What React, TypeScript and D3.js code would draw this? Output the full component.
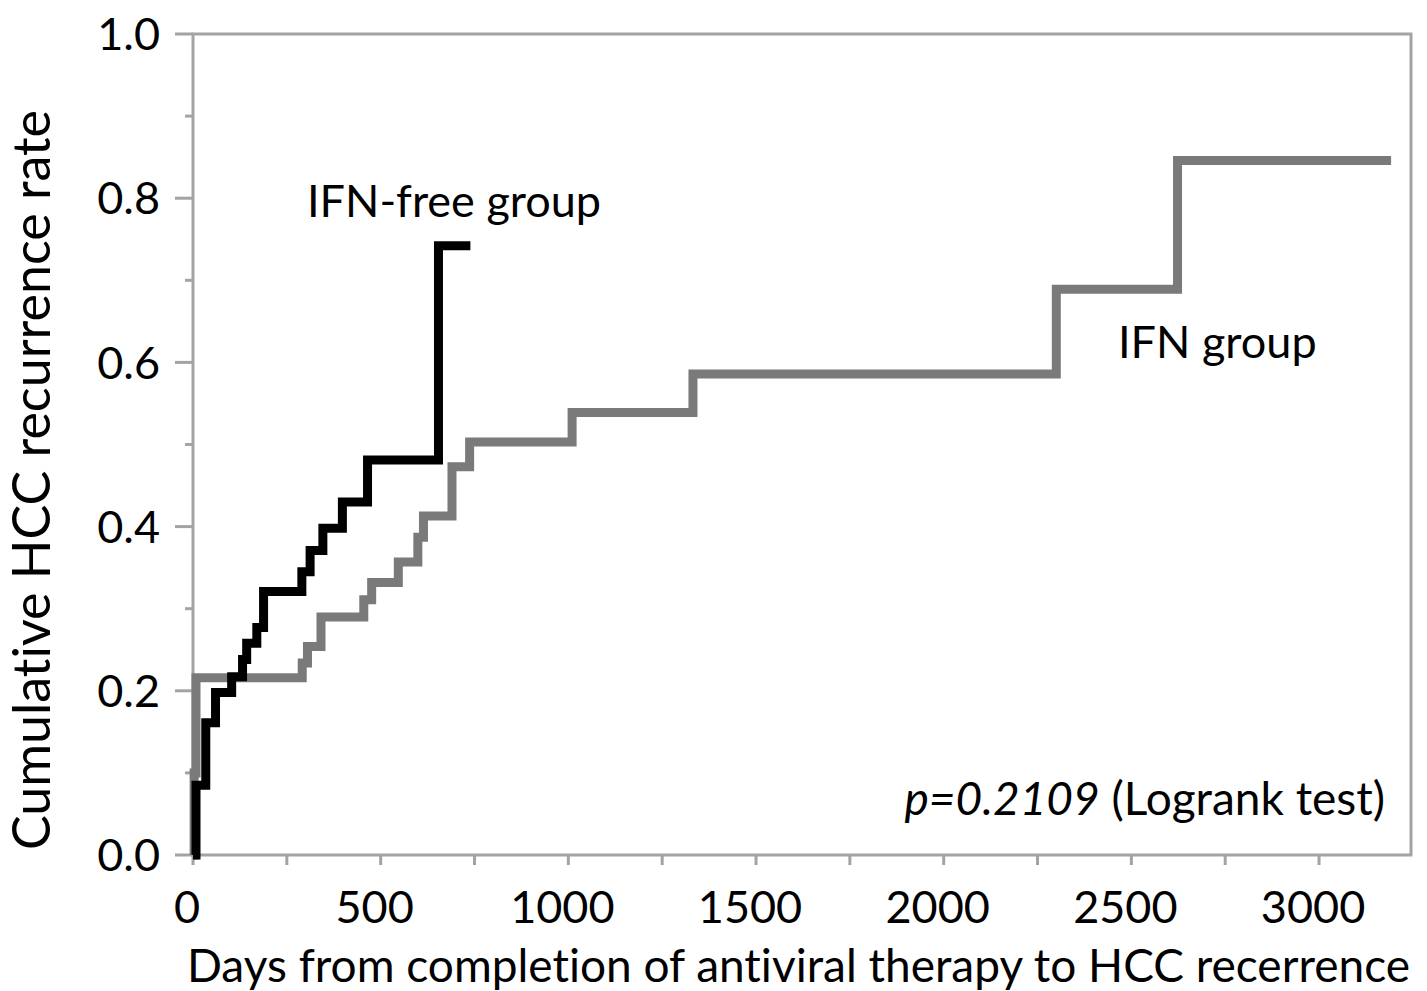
import * as d3 from "d3";

// chart size matches the reference picture
const width = 1427,
	height = 991;
const margin = { top: 34, right: 16, bottom: 136, left: 193 };

// IFN-free group (black step curve)
const freeDays = [0, 8, 34, 60, 103, 132, 143, 170, 188, 290, 312, 346, 398, 465, 654, 739];
const freeRates = [0, 0.085, 0.161, 0.198, 0.217, 0.238, 0.258, 0.277, 0.321, 0.345, 0.371, 0.398, 0.43, 0.481, 0.742, 0.742];

// IFN group (gray step curve)
const ifnDays = [0, 3, 8, 291, 305, 341, 455, 476, 547, 599, 614, 690, 737, 1010, 1332, 2300, 2623, 3192];
const ifnRates = [0, 0.1, 0.216, 0.234, 0.254, 0.29, 0.311, 0.332, 0.357, 0.387, 0.413, 0.473, 0.503, 0.539, 0.586, 0.689, 0.846, 0.846];

const xTicks = [0, 500, 1000, 1500, 2000, 2500, 3000];
const xMinor = [250, 750, 1250, 1750, 2250, 2750];
const yTicks = [0, 0.2, 0.4, 0.6, 0.8, 1.0];
const yMinor = [0.1, 0.3, 0.5, 0.7, 0.9];

const font = "Lato, 'Open Sans', sans-serif";
const axisColor = "#a3a3a3";

export default function App() {
	const x = d3.scaleLinear().domain([0, 3245]).range([margin.left, width - margin.right]);
	const y = d3.scaleLinear().domain([0, 1]).range([height - margin.bottom, margin.top]);

	// step-after lines, same as a Kaplan-Meier plot
	const step = d3
		.line<[number, number]>()
		.x((d) => x(d[0]))
		.y((d) => y(d[1]))
		.curve(d3.curveStepAfter);

	const freePath = step(freeDays.map((d, i) => [d, freeRates[i]]));
	const ifnPath = step(ifnDays.map((d, i) => [d, ifnRates[i]]));

	const x0 = x(0),
		x1 = x(3245),
		yb = y(0),
		yt = y(1);

	return (
		<svg
			width={width}
			height={height}
			style={{ position: "absolute", left: 0, top: 0, background: "#fff", fontVariantLigatures: "none" }}
			fontFamily={font}
		>
			{/* plot frame */}
			<rect x={x0} y={yt} width={x1 - x0} height={yb - yt} fill="none" stroke={axisColor} strokeWidth={3} />

			{/* y ticks */}
			{yTicks.map((t) => (
				<g key={"y" + t}>
					<line x1={x0 - 18} x2={x0} y1={y(t)} y2={y(t)} stroke={axisColor} strokeWidth={3} />
					<text x={160} y={y(t)} dy="0.36em" textAnchor="end" fontSize={45} fill="#000">
						{t.toFixed(1)}
					</text>
				</g>
			))}
			{yMinor.map((t) => (
				<line key={"ym" + t} x1={x0 - 8} x2={x0} y1={y(t)} y2={y(t)} stroke={axisColor} strokeWidth={3} />
			))}

			{/* x ticks */}
			{xTicks.map((t) => (
				<g key={"x" + t}>
					<line x1={x(t)} x2={x(t)} y1={yb} y2={yb + 10} stroke={axisColor} strokeWidth={3} />
					<text x={x(t) - 6} y={yb + 68} textAnchor="middle" fontSize={45} fill="#000">
						{t}
					</text>
				</g>
			))}
			{xMinor.map((t) => (
				<line key={"xm" + t} x1={x(t)} x2={x(t)} y1={yb} y2={yb + 10} stroke={axisColor} strokeWidth={3} />
			))}

			{/* curves */}
			<path d={ifnPath ?? ""} fill="none" stroke="#7a7a7a" strokeWidth={9} />
			<path d={freePath ?? ""} fill="none" stroke="#000" strokeWidth={9} />

			{/* annotations */}
			<text x={307} y={217} fontSize={45} fill="#000">
				IFN-free group
			</text>
			<text x={1118} y={358} fontSize={45} fill="#000">
				IFN group
			</text>
			<text x={1385} y={815} textAnchor="end" fontSize={46} fill="#000">
				<tspan fontStyle="italic">p=0.2109</tspan> (Logrank test)
			</text>

			{/* axis titles */}
			<text x={1410} y={982} textAnchor="end" fontSize={46} fill="#000">
				Days from completion of antiviral therapy to HCC recerrence
			</text>
			<text transform={`translate(50, ${(855 + 105) / 2}) rotate(-90)`} textAnchor="middle" fontSize={52} fill="#000">
				Cumulative HCC recurrence rate
			</text>
		</svg>
	);
}
